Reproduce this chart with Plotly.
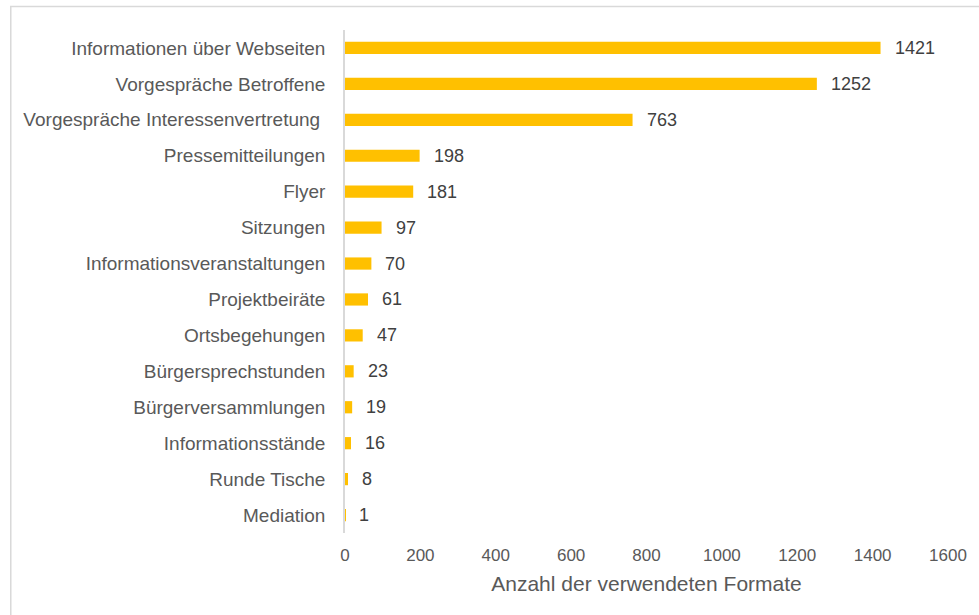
import plotly.graph_objects as go

categories = [
    "Informationen über Webseiten",
    "Vorgespräche Betroffene",
    "Vorgespräche Interessenvertretung\u00a0",
    "Pressemitteilungen",
    "Flyer",
    "Sitzungen",
    "Informationsveranstaltungen",
    "Projektbeiräte",
    "Ortsbegehungen",
    "Bürgersprechstunden",
    "Bürgerversammlungen",
    "Informationsstände",
    "Runde Tische",
    "Mediation",
]
values = [1421, 1252, 763, 198, 181, 97, 70, 61, 47, 23, 19, 16, 8, 1]
x_ticks = [0, 200, 400, 600, 800, 1000, 1200, 1400, 1600]
x_title = "Anzahl der verwendeten Formate"

FONT = "Liberation Sans, Arial, sans-serif"

fig = go.Figure(
    go.Bar(
        x=values,
        y=categories,
        orientation="h",
        marker=dict(color="#FFC000", line=dict(width=0)),
        width=0.34,
        hoverinfo="x+y",
    )
)

# value labels to the right of each bar
for cat, val in zip(categories, values):
    fig.add_annotation(
        x=val, y=cat, text=str(val), showarrow=False,
        xanchor="left", xshift=12,
        font=dict(family=FONT, size=18, color="#404040"),
    )

W, H = 979, 615
ml, mr, mt, mb = 345, 26, 30, 82
pw, ph = W - ml - mr, H - mt - mb

# light outer frame (right and bottom edges run off the page)
fig.add_shape(
    type="rect", xref="paper", yref="paper",
    x0=(8 - ml) / pw, x1=(W + 10 - ml) / pw,
    y0=-(mb + 10) / ph, y1=(mt - 6.5) / ph + 1,
    line=dict(color="#d9d9d9", width=1.5), fillcolor="rgba(0,0,0,0)",
    layer="below",
)

fig.update_layout(
    width=W, height=H,
    margin=dict(l=ml, r=mr, t=mt, b=mb),
    paper_bgcolor="white", plot_bgcolor="white",
    showlegend=False,
    font=dict(family=FONT, color="#595959"),
    xaxis=dict(
        range=[0, 1600], tickvals=x_ticks, ticktext=[str(t) for t in x_ticks],
        showgrid=False, zeroline=False, showline=False, ticks="",
        ticklabelstandoff=10,
        tickfont=dict(size=17, color="#595959"),
        title=dict(text=x_title, font=dict(size=21, color="#595959"), standoff=12),
    ),
    yaxis=dict(
        autorange="reversed", showgrid=False, zeroline=False,
        showline=True, linecolor="#d9d9d9", linewidth=1.5, ticks="",
        ticklabelstandoff=14,
        tickfont=dict(size=19, color="#595959"),
    ),
)

fig.write_html("out.html")
